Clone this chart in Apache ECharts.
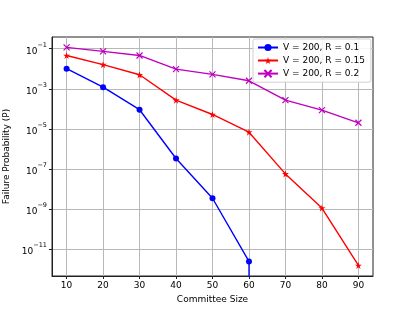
<!DOCTYPE html>
<html><head><meta charset="utf-8">
<script src="https://cdn.jsdelivr.net/npm/echarts@6/dist/echarts.min.js"></script>
<style>html,body{margin:0;padding:0;background:#fff}#c{width:415px;height:311px}</style>
</head><body><div id="c"></div>
<script>
// ---- data ----
const committeeSizes = [10, 20, 30, 40, 50, 60, 70, 80, 90];
const seriesNames = ['V = 200, R = 0.1', 'V = 200, R = 0.15', 'V = 200, R = 0.2'];
const r01 = [1.0e-2, 1.2e-3, 9.0e-5, 3.3e-7, 3.4e-9, 2.4e-12, 0];
const r015 = [4.6e-2, 1.6e-2, 5.0e-3, 2.7e-4, 5.2e-5, 6.8e-6, 5.6e-8, 1.1e-9, 1.5e-12];
const r02 = [1.17e-1, 7.4e-2, 4.6e-2, 9.6e-3, 5.2e-3, 2.5e-3, 2.7e-4, 8.6e-5, 2.0e-5];
const xTicks = [10, 20, 30, 40, 50, 60, 70, 80, 90];
const yTicks = [1e-11, 1e-9, 1e-7, 1e-5, 1e-3, 1e-1];

// log axis cannot show 0: clip to a tiny positive value like matplotlib does
function pairs(vals) {
  return vals.map((v, i) => [committeeSizes[i], v <= 0 ? 1e-300 : v]);
}
const FONT = 'DejaVu Sans';
const starPath = 'path://M50,0L61,35L98,35L68,57L79,91L50,70L21,91L32,57L2,35L39,35Z';
const xPath = 'path://M0,0L10,10M10,0L0,10';

const chart = echarts.init(document.getElementById('c'), null, {renderer: 'canvas'});
chart.setOption({
  animation: false,
  backgroundColor: '#fff',
  grid: {left: 52, top: 37, right: 42, bottom: 35, containLabel: false, outerBoundsMode: 'none',
         show: true, borderColor: '#222', borderWidth: 1, backgroundColor: 'transparent'},
  legend: {
    orient: 'vertical', left: 253, top: 39,
    padding: [4, 6, 4, 4], itemGap: 4, itemWidth: 20, itemHeight: 9,
    backgroundColor: 'rgba(255,255,255,0.85)', borderColor: '#d0d0d0', borderWidth: 1, borderRadius: 2,
    textStyle: {fontFamily: FONT, fontSize: 9, color: '#000'},
    data: seriesNames
  },
  xAxis: {
    type: 'value', min: 6, max: 94,
    name: 'Committee Size', nameLocation: 'middle', nameGap: 19,
    nameTextStyle: {fontFamily: FONT, fontSize: 9, color: '#000'},
    axisLine: {show: true, onZero: false, lineStyle: {color: '#222', width: 1}},
    axisTick: {show: true, length: 3, customValues: xTicks, lineStyle: {color: '#222'}},
    axisLabel: {customValues: xTicks, fontFamily: FONT, fontSize: 9, color: '#000', margin: 5},
    splitLine: {show: true, lineStyle: {color: '#b8b8b8', width: 1}}
  },
  yAxis: {
    type: 'log', logBase: 10, min: Math.pow(10, -12.35), max: Math.pow(10, -0.415),
    name: 'Failure Probability (P)', nameLocation: 'middle', nameGap: 36,
    nameTextStyle: {fontFamily: FONT, fontSize: 9, color: '#000'},
    axisLine: {show: true, lineStyle: {color: '#222', width: 1}},
    axisTick: {show: true, length: 3, customValues: yTicks, lineStyle: {color: '#222'}},
    axisLabel: {
      customValues: yTicks, margin: 5,
      formatter: v => { const e = Math.round(Math.log10(v)); return '{b|10}{s|' + (e < 0 ? '\u2212' : '') + Math.abs(e) + '}'; },
      rich: {
        b: {fontFamily: FONT, fontSize: 9, color: '#000', lineHeight: 14, verticalAlign: 'bottom'},
        s: {fontFamily: FONT, fontSize: 6.5, color: '#000', lineHeight: 14, verticalAlign: 'top'}
      }
    },
    splitLine: {show: true, lineStyle: {color: '#b8b8b8', width: 1}}
  },
  series: [
    {name: seriesNames[0], type: 'line', data: pairs(r01), clip: true,
     symbol: 'circle', symbolSize: 6, color: '#0000ff',
     lineStyle: {width: 1.4, color: '#0000ff'}, itemStyle: {color: '#0000ff'}},
    {name: seriesNames[1], type: 'line', data: pairs(r015), clip: true,
     symbol: starPath, symbolSize: 7, color: '#ff0000',
     lineStyle: {width: 1.4, color: '#ff0000'}, itemStyle: {color: '#ff0000'}},
    {name: seriesNames[2], type: 'line', data: pairs(r02), clip: true,
     symbol: xPath, symbolSize: 6, color: '#bf00bf',
     lineStyle: {width: 1.4, color: '#bf00bf'}, itemStyle: {color: '#bf00bf', borderColor: '#bf00bf', borderWidth: 1.2}}
  ]
});
</script></body></html>
